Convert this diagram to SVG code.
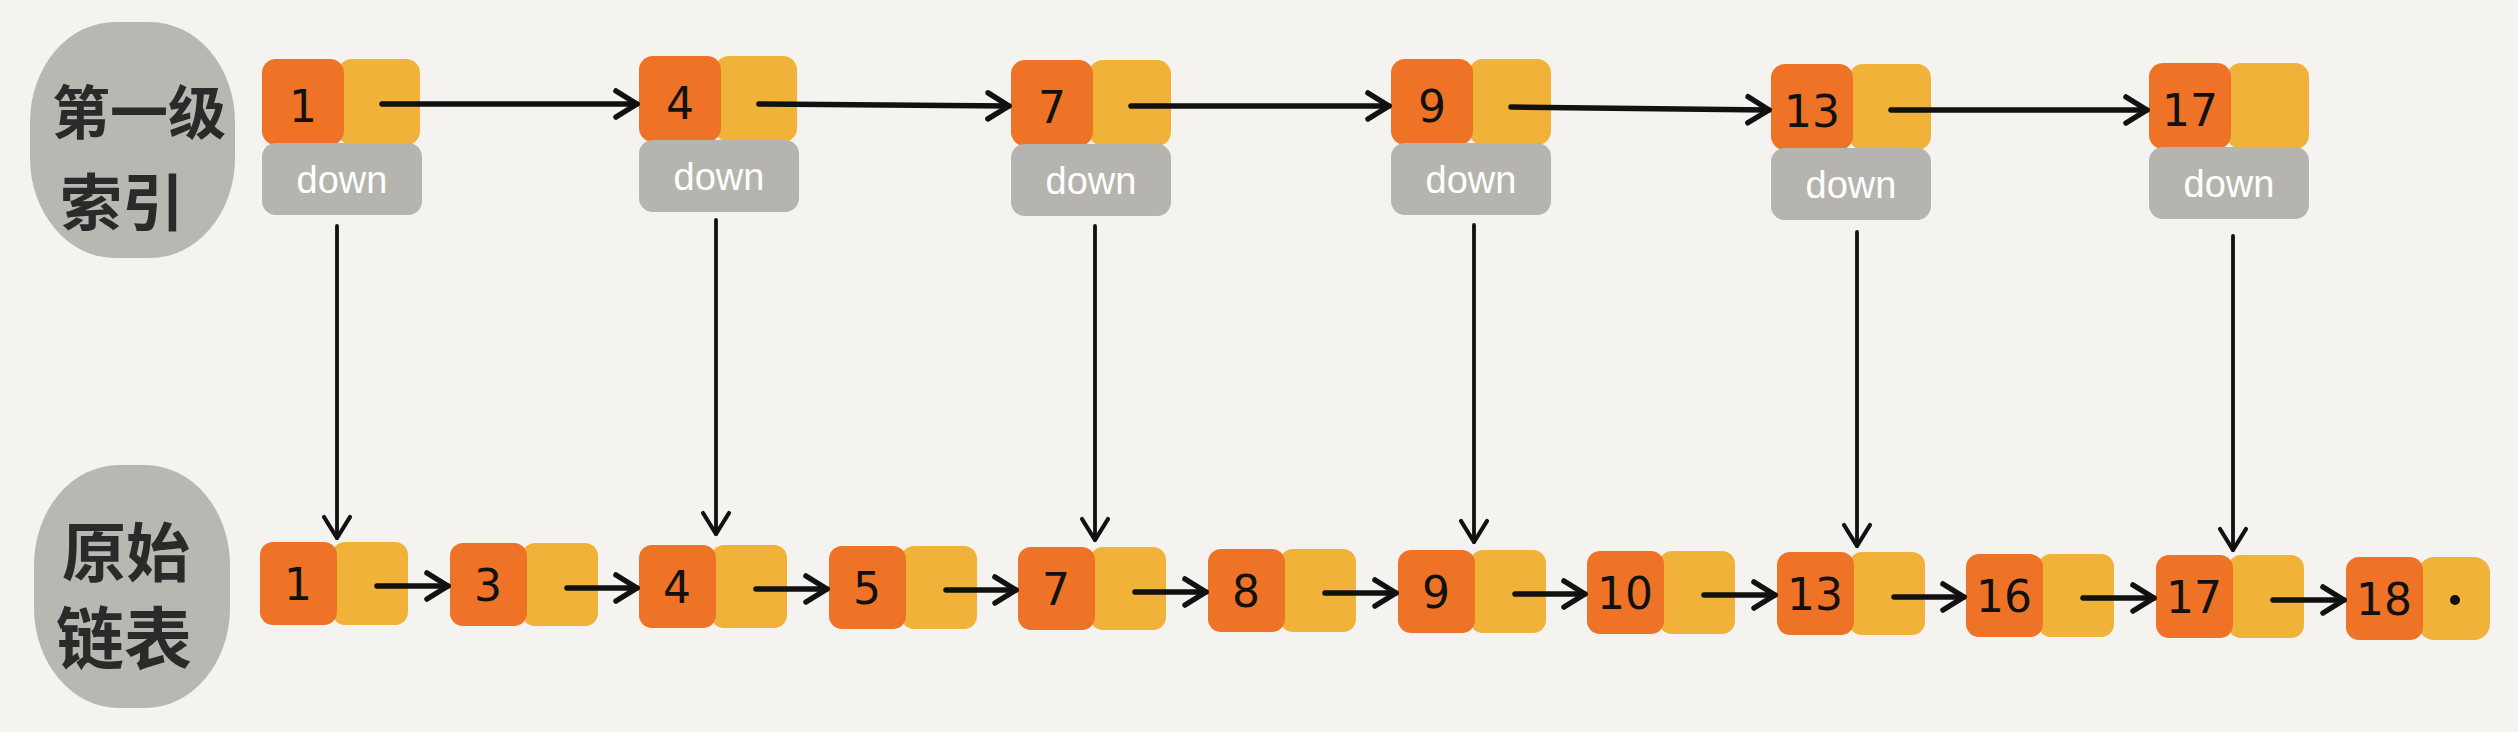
<svg xmlns="http://www.w3.org/2000/svg" width="2518" height="732" viewBox="0 0 2518 732">
<style>
.or{fill:#ee7326}
.ye{fill:#f1b23a}
.dn{fill:#b6b4af}
.blob{fill:#b9b7b2}
.num{font-family:"DejaVu Sans","Liberation Sans",sans-serif;font-size:44px;fill:#111;text-anchor:middle}
.dt{font-family:"Liberation Sans","DejaVu Sans",sans-serif;font-size:38px;fill:#fff;text-anchor:middle}
.lbl{font-family:"Noto Sans CJK SC",sans-serif;font-weight:700;fill:#2a2a2a}
.ah{stroke:#111;stroke-width:5.5;fill:none;stroke-linecap:round}
.av{stroke:#111;stroke-width:3.8;fill:none;stroke-linecap:round}
</style>
<defs>
<marker id="mh" markerUnits="userSpaceOnUse" markerWidth="30" markerHeight="34" viewBox="0 0 30 34" refX="27" refY="17" orient="auto">
<path d="M6,4 L27,17 L6,30" fill="none" stroke="#111" stroke-width="5.5" stroke-linecap="round" stroke-linejoin="round"/>
</marker>
<marker id="mv" markerUnits="userSpaceOnUse" markerWidth="30" markerHeight="34" viewBox="0 0 30 34" refX="27" refY="17" orient="auto">
<path d="M6,4 L27,17 L6,30" fill="none" stroke="#111" stroke-width="4.2" stroke-linecap="round" stroke-linejoin="round"/>
</marker>
</defs>
<rect width="2518" height="732" fill="#f4f3ef"/>

<g id="label-top">
<rect class="blob" x="30" y="22" width="205" height="236" rx="85" ry="100"/>
<text class="lbl" x="52" y="134" font-size="58">第一级</text>
<text class="lbl" x="60" y="226" font-size="62">索引</text>
</g>
<g id="label-bottom">
<rect class="blob" x="34" y="465" width="196" height="243" rx="85" ry="100"/>
<text class="lbl" x="62" y="576" font-size="64">原始</text>
<text class="lbl" x="56" y="664" font-size="68">链表</text>
</g>

<g id="top-1"><rect class="ye" x="338" y="59" width="82" height="86" rx="14"/><rect class="or" x="262" y="59" width="82" height="86" rx="14"/><rect class="dn" x="262" y="143" width="160" height="72" rx="14"/><text class="num" x="303" y="122">1</text><text class="dt" x="342" y="193">down</text></g>
<g id="top-4"><rect class="ye" x="715" y="56" width="82" height="86" rx="14"/><rect class="or" x="639" y="56" width="82" height="86" rx="14"/><rect class="dn" x="639" y="140" width="160" height="72" rx="14"/><text class="num" x="680" y="119">4</text><text class="dt" x="719" y="190">down</text></g>
<g id="top-7"><rect class="ye" x="1089" y="60" width="82" height="86" rx="14"/><rect class="or" x="1011" y="60" width="82" height="86" rx="14"/><rect class="dn" x="1011" y="144" width="160" height="72" rx="14"/><text class="num" x="1052" y="123">7</text><text class="dt" x="1091" y="194">down</text></g>
<g id="top-9"><rect class="ye" x="1469" y="59" width="82" height="86" rx="14"/><rect class="or" x="1391" y="59" width="82" height="86" rx="14"/><rect class="dn" x="1391" y="143" width="160" height="72" rx="14"/><text class="num" x="1432" y="122">9</text><text class="dt" x="1471" y="193">down</text></g>
<g id="top-13"><rect class="ye" x="1849" y="64" width="82" height="86" rx="14"/><rect class="or" x="1771" y="64" width="82" height="86" rx="14"/><rect class="dn" x="1771" y="148" width="160" height="72" rx="14"/><text class="num" x="1812" y="127">13</text><text class="dt" x="1851" y="198">down</text></g>
<g id="top-17"><rect class="ye" x="2227" y="63" width="82" height="86" rx="14"/><rect class="or" x="2149" y="63" width="82" height="86" rx="14"/><rect class="dn" x="2149" y="147" width="160" height="72" rx="14"/><text class="num" x="2190" y="126">17</text><text class="dt" x="2229" y="197">down</text></g>

<g id="bot-1"><rect class="ye" x="332" y="542" width="76" height="83" rx="13"/><rect class="or" x="260" y="542" width="77" height="83" rx="13"/><text class="num" x="298" y="600">1</text></g>
<g id="bot-3"><rect class="ye" x="522" y="543" width="76" height="83" rx="13"/><rect class="or" x="450" y="543" width="77" height="83" rx="13"/><text class="num" x="488" y="601">3</text></g>
<g id="bot-4"><rect class="ye" x="711" y="545" width="76" height="83" rx="13"/><rect class="or" x="639" y="545" width="77" height="83" rx="13"/><text class="num" x="677" y="603">4</text></g>
<g id="bot-5"><rect class="ye" x="901" y="546" width="76" height="83" rx="13"/><rect class="or" x="829" y="546" width="77" height="83" rx="13"/><text class="num" x="867" y="604">5</text></g>
<g id="bot-7"><rect class="ye" x="1090" y="547" width="76" height="83" rx="13"/><rect class="or" x="1018" y="547" width="77" height="83" rx="13"/><text class="num" x="1056" y="605">7</text></g>
<g id="bot-8"><rect class="ye" x="1280" y="549" width="76" height="83" rx="13"/><rect class="or" x="1208" y="549" width="77" height="83" rx="13"/><text class="num" x="1246" y="607">8</text></g>
<g id="bot-9"><rect class="ye" x="1470" y="550" width="76" height="83" rx="13"/><rect class="or" x="1398" y="550" width="77" height="83" rx="13"/><text class="num" x="1436" y="608">9</text></g>
<g id="bot-10"><rect class="ye" x="1659" y="551" width="76" height="83" rx="13"/><rect class="or" x="1587" y="551" width="77" height="83" rx="13"/><text class="num" x="1625" y="609">10</text></g>
<g id="bot-13"><rect class="ye" x="1849" y="552" width="76" height="83" rx="13"/><rect class="or" x="1777" y="552" width="77" height="83" rx="13"/><text class="num" x="1815" y="610">13</text></g>
<g id="bot-16"><rect class="ye" x="2038" y="554" width="76" height="83" rx="13"/><rect class="or" x="1966" y="554" width="77" height="83" rx="13"/><text class="num" x="2004" y="612">16</text></g>
<g id="bot-17"><rect class="ye" x="2228" y="555" width="76" height="83" rx="13"/><rect class="or" x="2156" y="555" width="77" height="83" rx="13"/><text class="num" x="2194" y="613">17</text></g>
<g id="bot-18"><rect class="ye" x="2418" y="557" width="72" height="83" rx="16"/><rect class="or" x="2346" y="557" width="77" height="83" rx="13"/><text class="num" x="2384" y="615">18</text><circle cx="2455" cy="600" r="5" fill="#111"/></g>

<g id="connectors">
<line class="ah" x1="382" y1="104" x2="637" y2="104" marker-end="url(#mh)"/>
<line class="ah" x1="759" y1="104" x2="1009" y2="106" marker-end="url(#mh)"/>
<line class="ah" x1="1131" y1="106" x2="1389" y2="106" marker-end="url(#mh)"/>
<line class="ah" x1="1511" y1="107" x2="1769" y2="110" marker-end="url(#mh)"/>
<line class="ah" x1="1891" y1="110" x2="2147" y2="110" marker-end="url(#mh)"/>

<line class="ah" x1="377" y1="586" x2="448" y2="586" marker-end="url(#mh)"/>
<line class="ah" x1="567" y1="588" x2="637" y2="588" marker-end="url(#mh)"/>
<line class="ah" x1="756" y1="589" x2="827" y2="589" marker-end="url(#mh)"/>
<line class="ah" x1="946" y1="590" x2="1016" y2="590" marker-end="url(#mh)"/>
<line class="ah" x1="1135" y1="592" x2="1206" y2="592" marker-end="url(#mh)"/>
<line class="ah" x1="1325" y1="593" x2="1396" y2="593" marker-end="url(#mh)"/>
<line class="ah" x1="1515" y1="594" x2="1585" y2="594" marker-end="url(#mh)"/>
<line class="ah" x1="1704" y1="595" x2="1775" y2="595" marker-end="url(#mh)"/>
<line class="ah" x1="1894" y1="597" x2="1964" y2="597" marker-end="url(#mh)"/>
<line class="ah" x1="2083" y1="598" x2="2154" y2="598" marker-end="url(#mh)"/>
<line class="ah" x1="2273" y1="600" x2="2344" y2="600" marker-end="url(#mh)"/>

<line class="av" x1="337" y1="226" x2="337" y2="538" marker-end="url(#mv)"/>
<line class="av" x1="716" y1="220" x2="716" y2="534" marker-end="url(#mv)"/>
<line class="av" x1="1095" y1="226" x2="1095" y2="540" marker-end="url(#mv)"/>
<line class="av" x1="1474" y1="225" x2="1474" y2="542" marker-end="url(#mv)"/>
<line class="av" x1="1857" y1="232" x2="1857" y2="546" marker-end="url(#mv)"/>
<line class="av" x1="2233" y1="236" x2="2233" y2="550" marker-end="url(#mv)"/>
</g>
</svg>
